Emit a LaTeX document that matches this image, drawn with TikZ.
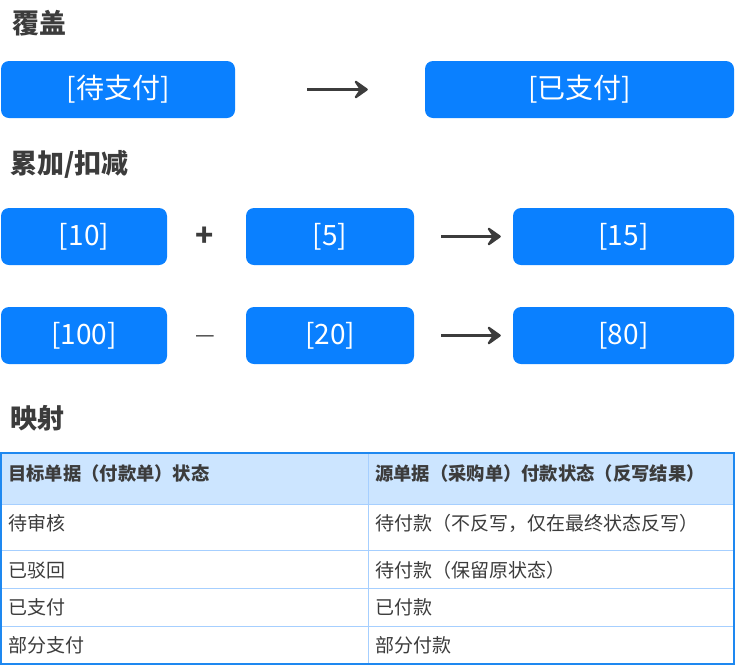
\documentclass[tikz,border=0pt]{standalone}
\usepackage{fontspec}
\setmainfont{Noto Sans CJK SC}
\usetikzlibrary{arrows.meta}
\definecolor{boxblue}{HTML}{0A80FF}
\definecolor{inkgray}{HTML}{3C3C3C}
\definecolor{headblue}{HTML}{CCE5FF}
\definecolor{edgeblue}{HTML}{1E88F0}
\definecolor{lineblue}{HTML}{A6CFFF}

\begin{document}
\begin{tikzpicture}[x=1pt,y=-1pt,
        titletext/.style={anchor=west,inner sep=0pt,text=inkgray,font=\fontsize{27}{27}\selectfont\bfseries},
        valbox/.style={fill=boxblue,rounded corners=8pt,text=white,inner sep=0pt,minimum height=57pt,font=\fontsize{28}{28}\selectfont},
        optext/.style={inner sep=0pt,text=inkgray,font=\fontsize{26}{26}\selectfont},
        flowarrow/.style={draw=inkgray,line width=3pt,-{Stealth[length=17pt,width=24pt,inset=8pt,round]}},
        headtext/.style={anchor=west,inner sep=0pt,text=inkgray,font=\fontsize{18.3}{18.3}\selectfont\bfseries},
        celltext/.style={anchor=west,inner sep=0pt,text=inkgray,font=\fontsize{19}{19}\selectfont}]
                \useasboundingbox (0,0) rectangle (735,665);

                \node[titletext] (t1) at (12,23) {覆盖};
                \node[valbox,minimum width=234pt] (s1) at (118,89.5) {[待支付]};
                \node[valbox,minimum width=309pt] (s2) at (579.5,89.5) {[已支付]};
                \draw[flowarrow,shorten <=72pt,shorten >=57pt] (s1.east) -- (s2.west);

                \node[titletext] (t2) at (10,164) {累加/扣减};
                \node[valbox,minimum width=166pt] (a1) at (84,236.5) {[10]};
                \node[optext,font=\fontsize{30}{30}\selectfont\bfseries] (plus) at (205,236.5) {+};
                \node[valbox,minimum width=168pt] (a2) at (330,236.5) {[5]};
                \node[valbox,minimum width=221pt] (a3) at (623.5,236.5) {[15]};
                \draw[flowarrow,shorten <=27pt,shorten >=12pt] (a2.east) -- (a3.west);

                \node[valbox,minimum width=166pt] (b1) at (84,335.5) {[100]};
                \node[optext,font=\fontsize{22}{22}\selectfont] (minus) at (205,339.5) {—};
                \node[valbox,minimum width=168pt] (b2) at (330,335.5) {[20]};
                \node[valbox,minimum width=221pt] (b3) at (623.5,335.5) {[80]};
                \draw[flowarrow,shorten <=27pt,shorten >=12pt] (b2.east) -- (b3.west);

                \node[titletext] (t3) at (10,418) {映射};
                \fill[headblue] (1,453) rectangle (734,504);
                \draw[lineblue,line width=1pt] (1,504) -- (734,504);
                \draw[lineblue,line width=1pt] (1,550) -- (734,550);
                \draw[lineblue,line width=1pt] (1,588) -- (734,588);
                \draw[lineblue,line width=1pt] (1,626) -- (734,626);
                \draw[lineblue,line width=1pt] (368,453) -- (368,664);
                \draw[edgeblue,line width=1.5pt] (1,453) rectangle (734,664);

                \node[headtext] (h1) at (8,473) {目标单据（付款单）状态};
                \node[headtext] (h2) at (375,473) {源单据（采购单）付款状态（反写结果）};
                \node[celltext] (c11) at (8,523) {待审核};
                \node[celltext] (c12) at (375,523) {待付款（不反写，仅在最终状态反写）};
                \node[celltext] (c21) at (8,570) {已驳回};
                \node[celltext] (c22) at (375,570) {待付款（保留原状态）};
                \node[celltext] (c31) at (8,607) {已支付};
                \node[celltext] (c32) at (375,607) {已付款};
                \node[celltext] (c41) at (8,645) {部分支付};
                \node[celltext] (c42) at (375,645) {部分付款};
            \end{tikzpicture}
\end{document}
